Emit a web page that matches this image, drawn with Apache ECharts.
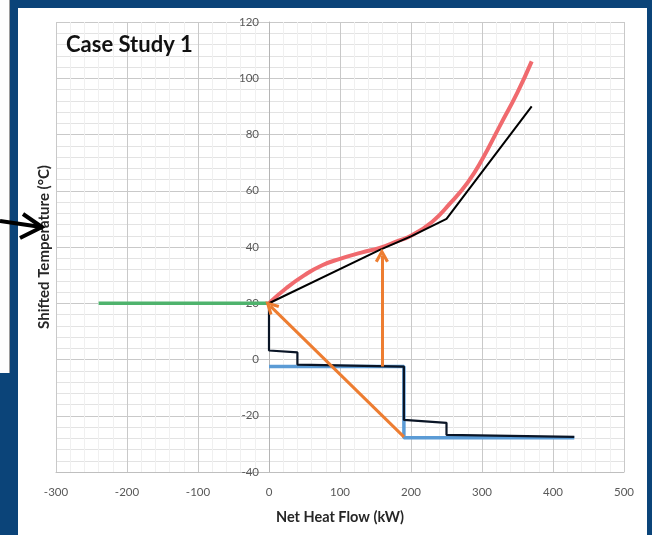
<!DOCTYPE html>
<html>
<head>
<meta charset="utf-8">
<script src="https://cdn.jsdelivr.net/npm/echarts@6/dist/echarts.min.js"></script>
<style>
  html, body { margin: 0; padding: 0; background: #0b4479; }
  #wrap { position: relative; width: 652px; height: 535px; background: #0b4479; overflow: hidden; }
  #side { position: absolute; left: 0; top: 0; width: 9px; height: 373px; background: #fdfdfd; border-right: 1px solid #9a9a9a; }
  #panel { position: absolute; left: 18px; top: 8px; width: 629px; height: 527px; background: #ffffff; }
  #chart { position: absolute; left: 0; top: 0; width: 652px; height: 535px; }
</style>
</head>
<body>
<div id="wrap">
  <div id="side"></div>
  <div id="panel"></div>
  <div id="chart"></div>
</div>
<script>
// values (x = net heat flow kW, y = shifted temperature °C)
const xTicks = [-300, 500, 100];   // min, max, interval
const yTicks = [-40, 120, 20];

const utilityLine = [[-240, 20], [0, 20]];
const hotCurve = [[0, 20], [25, 25.5], [50, 30], [75, 33.5], [100, 35.8], [130, 38], [156, 39.7],
  [180, 42], [200, 44], [230, 49], [255, 55.5], [280, 63], [300, 71], [325, 83], [350, 95], [370, 106]];
const hotComposite = [[0, 20], [156, 39], [200, 43.8], [250, 50], [370, 90]];
const coldShifted = [[0, -2.5], [190, -2.5], [190, -27.8], [430, -27.8]];
const coldComposite = [[0, 20], [0, 3.2], [40, 2.5], [40, -1.8], [190, -2.5], [190, -21.5],
  [250, -22.5], [250, -26.8], [430, -27.5]];
const arrows = [
  [[190, -27.5], [2, 19]],
  [[159, -2.5], [159, 37]]
];

const chart = echarts.init(document.getElementById('chart'));
const font = 'Lato, "Open Sans", sans-serif';
const chevron = 'path://M5,0 L10,9 L8,10 L5,4.5 L2,10 L0,9 Z';

// grid box in px; the y axis is drawn where x = 0
const gridLeft = 56, gridRight = 28;
const plotW = 652 - gridLeft - gridRight;
const zeroOffset = plotW * (0 - xTicks[0]) / (xTicks[1] - xTicks[0]);

chart.setOption({
  animation: false,
  backgroundColor: 'transparent',
  textStyle: { fontFamily: font },
  title: {
    text: 'Case Study 1', left: 61, top: 29,
    textStyle: { fontFamily: font, fontWeight: 'bold', fontSize: 22, color: '#111' }
  },
  grid: { left: gridLeft, right: gridRight, top: 22, bottom: 63 },
  xAxis: {
    type: 'value',
    min: xTicks[0], max: xTicks[1], interval: xTicks[2],
    name: 'Net Heat Flow (kW)',
    nameLocation: 'middle',
    nameGap: 38,
    nameTextStyle: { fontFamily: font, fontWeight: 'bold', fontSize: 14.5, color: '#262626' },
    axisLine: { onZero: false, lineStyle: { color: '#bfbfbf', width: 1 } },
    axisTick: { show: false },
    axisLabel: { color: '#595959', fontSize: 11.5, margin: 14, fontFamily: font },
    splitLine: { lineStyle: { color: '#c9c9c9', width: 1 } },
    minorTick: { show: false, splitNumber: 5 },
    minorSplitLine: { show: true, lineStyle: { color: '#f0f0f0', width: 1 } }
  },
  yAxis: {
    type: 'value',
    position: 'left',
    offset: -zeroOffset,
    min: yTicks[0], max: yTicks[1], interval: yTicks[2],
    axisLine: { show: true, onZero: false, lineStyle: { color: '#b5b5b5', width: 1 } },
    axisTick: { show: false },
    axisLabel: { color: '#595959', fontSize: 11.5, margin: 10, fontFamily: font },
    splitLine: { lineStyle: { color: '#c9c9c9', width: 1 } },
    minorTick: { show: false, splitNumber: 5 },
    minorSplitLine: { show: true, lineStyle: { color: '#e3e3e3', width: 1 } }
  },
  graphic: [
    {
      type: 'text', x: 44, y: 247, rotation: Math.PI / 2,
      style: {
        text: 'Shifted Temperature (°C)', fontFamily: font, fontWeight: 'bold', fontSize: 15,
        fill: '#262626', align: 'center', verticalAlign: 'middle'
      }
    },
    {
      type: 'polyline',
      shape: { points: [[0, 221], [41, 227]] },
      style: { stroke: '#000', lineWidth: 4, fill: null }
    },
    {
      type: 'polyline',
      shape: { points: [[23, 214], [42, 227], [20, 238]] },
      style: { stroke: '#000', lineWidth: 4, fill: null, lineJoin: 'miter' }
    }
  ],
  series: [
    {
      type: 'line', data: utilityLine, showSymbol: false,
      lineStyle: { color: '#4fb36d', width: 3.5 }
    },
    {
      type: 'line', data: coldShifted, showSymbol: false,
      lineStyle: { color: '#5b9bd5', width: 3.5 }
    },
    {
      type: 'line', data: coldComposite, showSymbol: false,
      lineStyle: { color: '#0a1526', width: 2.2 }
    },
    {
      type: 'line', data: hotCurve, showSymbol: false, smooth: true,
      lineStyle: { color: '#f06a6e', width: 4 }
    },
    {
      type: 'line', data: hotComposite, showSymbol: false,
      lineStyle: { color: '#000', width: 2 }
    },
    {
      type: 'lines', coordinateSystem: 'cartesian2d',
      symbol: ['none', chevron], symbolSize: [14, 14],
      lineStyle: { color: '#ed7d31', width: 3, opacity: 1, curveness: 0 },
      data: arrows.map(a => ({ coords: a })),
      z: 5
    }
  ]
});
</script>
</body>
</html>
